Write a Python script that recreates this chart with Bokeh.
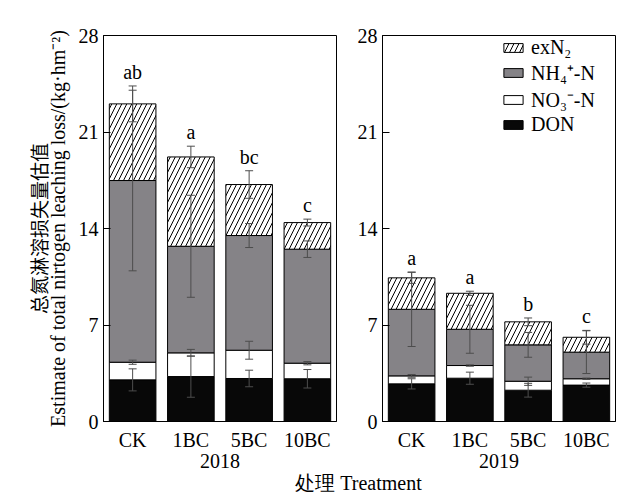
from bokeh.plotting import figure
from bokeh.models import (ColumnDataSource, Range1d, FactorRange, FixedTicker, Whisker,
                          TeeHead, Legend, LegendItem, Label, LinearAxis)
from bokeh.layouts import row, column
from bokeh.embed import file_html
from bokeh.resources import INLINE
from bokeh.core.properties import value

# ---------------- data ----------------
treatments = ["CK", "1BC", "5BC", "10BC"]
years = ["2018", "2019"]
y_ticks = [0, 7, 14, 21, 28]
series_names = ["DON", "NO₃⁻-N", "NH₄⁺-N", "exN₂"]

don_2018 = [3.02, 3.26, 3.12, 3.10]
no3_2018 = [1.28, 1.72, 2.05, 1.13]
nh4_2018 = [13.18, 7.73, 8.32, 8.27]
exn2_2018 = [5.56, 6.48, 3.70, 1.93]
don_err_2018 = [0.80, 1.50, 0.60, 0.67]
no3_err_2018 = [0.15, 0.25, 0.65, 0.12]
nh4_err_2018 = [6.55, 3.70, 0.87, 0.60]
exn2_err_2018 = [1.30, 0.78, 1.00, 0.25]
letters_2018 = ["ab", "a", "bc", "c"]

don_2019 = [2.73, 3.14, 2.27, 2.64]
no3_2019 = [0.58, 0.92, 0.65, 0.46]
nh4_2019 = [4.83, 2.63, 2.64, 1.93]
exn2_2019 = [2.28, 2.61, 1.67, 1.08]
don_err_2019 = [0.37, 0.44, 0.50, 0.15]
no3_err_2019 = [0.10, 0.05, 0.30, 0.05]
nh4_err_2019 = [2.70, 1.74, 0.90, 1.55]
exn2_err_2019 = [0.40, 0.15, 0.28, 0.50]
letters_2019 = ["a", "a", "b", "c"]

y_title_cn = "总氮淋溶损失量估值"
y_title_en = "Estimate of total nirtogen leaching loss/(kg·hm⁻²)"
x_title = "处理 Treatment"

SERIF = "Liberation Serif"
CJK = "Noto Sans CJK SC"
FS = "20px"
ERR_COLOR = "#4d4d4d"

styles = [
    dict(fill_color="#080808"),
    dict(fill_color="white"),
    dict(fill_color="#858387"),
    dict(fill_color="white", hatch_pattern="/", hatch_color="black",
         hatch_scale=10, hatch_weight=1),
]


def label_axis(text, font, size, standoff):
    return LinearAxis(ticker=FixedTicker(ticks=[]), axis_label=text,
                      axis_line_color=None, major_tick_in=0, major_tick_out=0,
                      minor_tick_in=0, minor_tick_out=0, major_label_standoff=0,
                      axis_label_standoff=standoff, axis_label_text_font=font,
                      axis_label_text_font_size=size,
                      axis_label_text_font_style="normal",
                      axis_label_text_color="black")


def panel(year, comps, errs, letters, width, b_left, b_right, with_legend=False,
          with_title=False):
    p = figure(width=width, height=472, title=None,
               x_range=FactorRange(factors=treatments, range_padding=0),
               y_range=Range1d(0, 28), output_backend="svg", toolbar_location=None,
               min_border_left=b_left, min_border_right=b_right,
               min_border_top=35, min_border_bottom=51)
    bottoms = [0.0] * len(treatments)
    renderers = []
    tops_all = []
    for vals, err, st in zip(comps, errs, styles):
        tops = [b + v for b, v in zip(bottoms, vals)]
        src = ColumnDataSource(dict(x=treatments, bottom=bottoms, top=tops))
        r = p.vbar(x="x", bottom="bottom", top="top", width=0.8, source=src,
                   line_color="black", line_width=1, **st)
        renderers.append(r)
        tops_all.append((tops, err))
        bottoms = tops
    hi = [0.0] * len(treatments)
    for tops, err in tops_all:
        wsrc = ColumnDataSource(dict(
            x=treatments,
            upper=[t + e for t, e in zip(tops, err)],
            lower=[t - e for t, e in zip(tops, err)]))
        hi = [max(h, t + e) for h, t, e in zip(hi, tops, err)]
        w = Whisker(base="x", upper="upper", lower="lower", source=wsrc,
                    dimension="height", line_color=ERR_COLOR, line_width=1,
                    upper_head=TeeHead(size=8, line_color=ERR_COLOR, line_width=1),
                    lower_head=TeeHead(size=8, line_color=ERR_COLOR, line_width=1),
                    level="annotation")
        p.add_layout(w)
    lsrc = ColumnDataSource(dict(x=treatments, y=hi, t=letters))
    p.text(x="x", y="y", text="t", source=lsrc, text_align="center",
           text_baseline="bottom", y_offset=-3, text_font=value(SERIF),
           text_font_size=FS, text_color="black")

    p.xgrid.visible = False
    p.ygrid.visible = False
    p.outline_line_color = "black"
    p.outline_line_width = 1
    p.outline_line_alpha = 1

    ya = p.yaxis[0]
    ya.ticker = FixedTicker(ticks=y_ticks)
    ya.major_tick_in = 7
    ya.major_tick_out = 0
    ya.minor_tick_line_color = None
    ya.minor_tick_in = 0
    ya.minor_tick_out = 0
    ya.major_label_text_font = SERIF
    ya.major_label_text_font_size = FS
    ya.major_label_text_color = "black"
    ya.major_label_standoff = 5
    ya.axis_line_color = "black"
    ya.major_tick_line_color = "black"

    xa = p.xaxis[0]
    xa.major_tick_line_color = None
    xa.major_tick_in = 0
    xa.major_tick_out = 0
    xa.minor_tick_line_color = None
    xa.axis_line_color = "black"
    xa.major_label_text_font = SERIF
    xa.major_label_text_font_size = FS
    xa.major_label_text_color = "black"
    xa.major_label_standoff = 7
    xa.axis_label = year
    xa.axis_label_text_font = SERIF
    xa.axis_label_text_font_size = FS
    xa.axis_label_text_font_style = "normal"
    xa.axis_label_text_color = "black"
    xa.axis_label_standoff = 0

    if with_legend:
        order = [3, 2, 1, 0]
        items = [LegendItem(label=series_names[i], renderers=[renderers[i]]) for i in order]
        leg = Legend(items=items, location=(119, 285), padding=0, margin=0,
                     spacing=-5, label_height=20, glyph_width=24, glyph_height=11,
                     label_standoff=6, label_text_font=SERIF, label_text_font_size=FS,
                     label_text_color="black", border_line_color=None,
                     background_fill_alpha=0)
        p.add_layout(leg)

    if with_title:
        p.add_layout(label_axis(y_title_en, SERIF, "20px", 7), "left")
        p.add_layout(label_axis(y_title_cn, CJK, "19px", -8), "left")
    return p


p1 = panel(years[0], [don_2018, no3_2018, nh4_2018, exn2_2018],
           [don_err_2018, no3_err_2018, nh4_err_2018, exn2_err_2018], letters_2018,
           width=337, b_left=103, b_right=1, with_title=True)
p2 = panel(years[1], [don_2019, no3_2019, nh4_2019, exn2_2019],
           [don_err_2019, no3_err_2019, nh4_err_2019, exn2_err_2019], letters_2019,
           width=283, b_left=45, b_right=5, with_legend=True)

p3 = figure(width=620, height=20, title=None, x_range=Range1d(0, 620),
            y_range=Range1d(0, 20), output_backend="svg", toolbar_location=None,
            min_border=0, min_border_left=0, min_border_right=0,
            min_border_top=0, min_border_bottom=0)
p3.axis.visible = False
p3.xgrid.visible = False
p3.ygrid.visible = False
p3.outline_line_color = None
p3.add_layout(Label(x=358, y=10, x_units="data", y_units="data", text=x_title,
                    text_align="center", text_baseline="middle", text_font=SERIF,
                    text_font_size=FS, text_color="black"))

layout = column(row(p1, p2), p3)
open("out.html", "w").write(file_html(layout, INLINE))
